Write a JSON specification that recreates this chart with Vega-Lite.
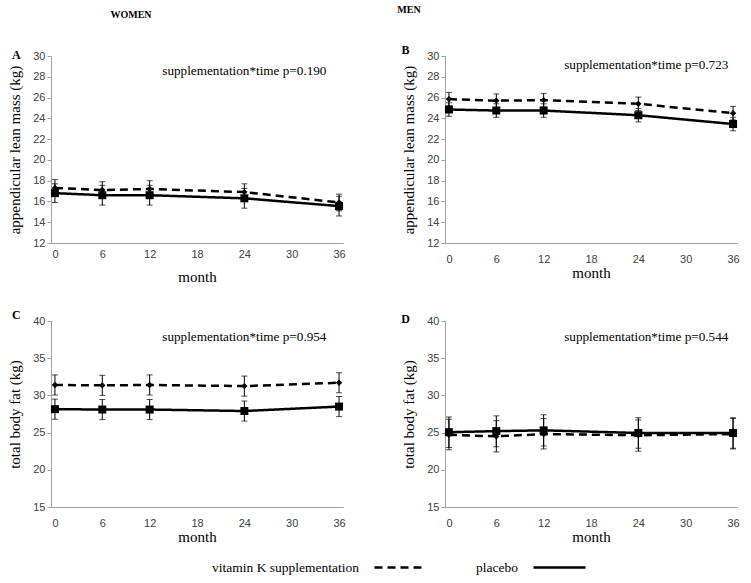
{
  "$schema": "https://vega.github.io/schema/vega-lite/v6.json",
  "background": "white",
  "padding": {"left": 7, "top": 4, "right": 16, "bottom": 8},
  "config": {
    "view": {"stroke": null},
    "axis": {"grid": false, "domainColor": "#a0a0a0", "tickColor": "#a0a0a0", "labelFont": "Liberation Sans", "labelFontSize": 11, "labelColor": "#404040", "titleFont": "Liberation Serif", "titleFontSize": 15, "titleFontWeight": "normal", "titleColor": "black"},
    "axisX": {"ticks": false, "tickSize": 0},
    "axisY": {"tickSize": 4, "labelPadding": 2, "titlePadding": 10},
    "legend": {
      "orient": "none", "legendX": 322, "legendY": 484, "direction": "horizontal",
      "symbolType": "stroke", "symbolSize": 2704, "symbolStrokeWidth": 2.5, "symbolStrokeColor": "black",
      "labelFont": "Liberation Serif", "labelFontSize": 13.5, "labelColor": "black",
      "labelAlign": "right", "labelOffset": -69, "columnPadding": 44, "labelLimit": 400
    }
  },
  "datasets": {
    "A": [
      {"group": "vitamin K supplementation", "month": 0, "mean": 17.3, "lo": 16.5, "hi": 18.1},
      {"group": "vitamin K supplementation", "month": 6, "mean": 17.1, "lo": 16.3, "hi": 17.9},
      {"group": "vitamin K supplementation", "month": 12, "mean": 17.2, "lo": 16.4, "hi": 18.0},
      {"group": "vitamin K supplementation", "month": 24, "mean": 16.9, "lo": 16.1, "hi": 17.7},
      {"group": "vitamin K supplementation", "month": 36, "mean": 15.9, "lo": 15.1, "hi": 16.7},
      {"group": "placebo", "month": 0, "mean": 16.8, "lo": 15.9, "hi": 17.7},
      {"group": "placebo", "month": 6, "mean": 16.6, "lo": 15.65, "hi": 17.55},
      {"group": "placebo", "month": 12, "mean": 16.6, "lo": 15.65, "hi": 17.55},
      {"group": "placebo", "month": 24, "mean": 16.3, "lo": 15.35, "hi": 17.25},
      {"group": "placebo", "month": 36, "mean": 15.55, "lo": 14.6, "hi": 16.5}
    ],
    "B": [
      {"group": "vitamin K supplementation", "month": 0, "mean": 25.85, "lo": 25.2, "hi": 26.5},
      {"group": "vitamin K supplementation", "month": 6, "mean": 25.7, "lo": 25.05, "hi": 26.35},
      {"group": "vitamin K supplementation", "month": 12, "mean": 25.75, "lo": 25.1, "hi": 26.4},
      {"group": "vitamin K supplementation", "month": 24, "mean": 25.4, "lo": 24.75, "hi": 26.05},
      {"group": "vitamin K supplementation", "month": 36, "mean": 24.5, "lo": 23.85, "hi": 25.15},
      {"group": "placebo", "month": 0, "mean": 24.85, "lo": 24.2, "hi": 25.5},
      {"group": "placebo", "month": 6, "mean": 24.75, "lo": 24.1, "hi": 25.4},
      {"group": "placebo", "month": 12, "mean": 24.75, "lo": 24.1, "hi": 25.4},
      {"group": "placebo", "month": 24, "mean": 24.3, "lo": 23.65, "hi": 24.95},
      {"group": "placebo", "month": 36, "mean": 23.45, "lo": 22.8, "hi": 24.1}
    ],
    "C": [
      {"group": "vitamin K supplementation", "month": 0, "mean": 31.4, "lo": 30.05, "hi": 32.75},
      {"group": "vitamin K supplementation", "month": 6, "mean": 31.35, "lo": 30.0, "hi": 32.7},
      {"group": "vitamin K supplementation", "month": 12, "mean": 31.4, "lo": 30.05, "hi": 32.75},
      {"group": "vitamin K supplementation", "month": 24, "mean": 31.25, "lo": 29.9, "hi": 32.6},
      {"group": "vitamin K supplementation", "month": 36, "mean": 31.7, "lo": 30.35, "hi": 33.05},
      {"group": "placebo", "month": 0, "mean": 28.15, "lo": 26.8, "hi": 29.5},
      {"group": "placebo", "month": 6, "mean": 28.1, "lo": 26.75, "hi": 29.45},
      {"group": "placebo", "month": 12, "mean": 28.1, "lo": 26.75, "hi": 29.45},
      {"group": "placebo", "month": 24, "mean": 27.9, "lo": 26.55, "hi": 29.25},
      {"group": "placebo", "month": 36, "mean": 28.5, "lo": 27.15, "hi": 29.85}
    ],
    "D": [
      {"group": "vitamin K supplementation", "month": 0, "mean": 24.7, "lo": 22.7, "hi": 26.8},
      {"group": "vitamin K supplementation", "month": 6, "mean": 24.5, "lo": 22.4, "hi": 26.6},
      {"group": "vitamin K supplementation", "month": 12, "mean": 24.8, "lo": 22.8, "hi": 26.9},
      {"group": "vitamin K supplementation", "month": 24, "mean": 24.65, "lo": 22.5, "hi": 26.7},
      {"group": "vitamin K supplementation", "month": 36, "mean": 24.8, "lo": 22.8, "hi": 26.9},
      {"group": "placebo", "month": 0, "mean": 25.05, "lo": 23.0, "hi": 27.1},
      {"group": "placebo", "month": 6, "mean": 25.2, "lo": 23.1, "hi": 27.25},
      {"group": "placebo", "month": 12, "mean": 25.3, "lo": 23.2, "hi": 27.4},
      {"group": "placebo", "month": 24, "mean": 24.95, "lo": 22.9, "hi": 27.0},
      {"group": "placebo", "month": 36, "mean": 24.95, "lo": 22.9, "hi": 27.0}
    ]
  },
  "columns": 2,
  "spacing": {"row": 78, "column": 102},
  "bounds": "flush",
  "concat": [
    {
      "width": 292, "height": 187,
      "data": {"name": "A"},
      "title": {"text": "WOMEN", "font": "Liberation Serif", "fontSize": 10, "fontWeight": "bold", "color": "black", "anchor": "middle", "dx": -66, "offset": 29},
      "encoding": {
        "x": {"field": "month", "type": "quantitative", "scale": {"domain": [-0.5, 36.5], "nice": false, "zero": false}, "axis": {"values": [0, 6, 12, 18, 24, 30, 36], "title": "month", "labelPadding": 5, "titlePadding": 10}},
        "y": {"field": "mean", "type": "quantitative", "scale": {"domain": [12, 30], "nice": false, "zero": false}, "axis": {"values": [12, 14, 16, 18, 20, 22, 24, 26, 28, 30], "title": "appendicular lean mass (kg)"}}
      },
      "layer": [
        {"mark": {"type": "errorbar", "color": "black", "ticks": {"size": 6}, "rule": {"strokeWidth": 1}},
         "encoding": {"y": {"field": "lo", "type": "quantitative", "scale": {"domain": [12, 30], "nice": false, "zero": false}, "axis": {"values": [12, 14, 16, 18, 20, 22, 24, 26, 28, 30], "title": "appendicular lean mass (kg)"}}, "y2": {"field": "hi"}, "detail": {"field": "group"}}},
        {"mark": {"type": "line", "color": "black", "strokeWidth": 2.5},
         "encoding": {"strokeDash": {"field": "group", "type": "nominal", "scale": {"domain": ["vitamin K supplementation", "placebo"], "range": [[8, 5], [1, 0]]}, "legend": {"title": null}}}},
        {"transform": [{"filter": "datum.group == 'vitamin K supplementation'"}], "mark": {"type": "point", "filled": true, "color": "black", "opacity": 1, "shape": "diamond", "size": 40}},
        {"transform": [{"filter": "datum.group == 'placebo'"}], "mark": {"type": "point", "filled": true, "color": "black", "opacity": 1, "shape": "square", "size": 64}},
        {"transform": [{"filter": "datum.group == 'placebo' && datum.month == 0"}], "mark": {"type": "text", "text": "A", "font": "Liberation Serif", "fontSize": 12, "fontWeight": "bold", "color": "black"},
         "encoding": {"x": {"datum": -4.9, "type": "quantitative"}, "y": {"datum": 30.1, "type": "quantitative"}}},
        {"transform": [{"filter": "datum.group == 'placebo' && datum.month == 0"}], "mark": {"type": "text", "text": "supplementation*time p=0.190", "font": "Liberation Serif", "fontSize": 13.2, "color": "black"},
         "encoding": {"x": {"datum": 24, "type": "quantitative"}, "y": {"datum": 28.6, "type": "quantitative"}}}
      ]
    },
    {
      "width": 292, "height": 187,
      "data": {"name": "B"},
      "title": {"text": "MEN", "font": "Liberation Serif", "fontSize": 10, "fontWeight": "bold", "color": "black", "anchor": "middle", "dx": -182, "offset": 29},
      "encoding": {
        "x": {"field": "month", "type": "quantitative", "scale": {"domain": [-0.5, 36.5], "nice": false, "zero": false}, "axis": {"values": [0, 6, 12, 18, 24, 30, 36], "title": "month", "labelPadding": 10, "titlePadding": 1}},
        "y": {"field": "mean", "type": "quantitative", "scale": {"domain": [12, 30], "nice": false, "zero": false}, "axis": {"values": [12, 14, 16, 18, 20, 22, 24, 26, 28, 30], "title": "appendicular lean mass (kg)"}}
      },
      "layer": [
        {"mark": {"type": "errorbar", "color": "black", "ticks": {"size": 6}, "rule": {"strokeWidth": 1}},
         "encoding": {"y": {"field": "lo", "type": "quantitative", "scale": {"domain": [12, 30], "nice": false, "zero": false}, "axis": {"values": [12, 14, 16, 18, 20, 22, 24, 26, 28, 30], "title": "appendicular lean mass (kg)"}}, "y2": {"field": "hi"}, "detail": {"field": "group"}}},
        {"mark": {"type": "line", "color": "black", "strokeWidth": 2.5},
         "encoding": {"strokeDash": {"field": "group", "type": "nominal", "scale": {"domain": ["vitamin K supplementation", "placebo"], "range": [[8, 5], [1, 0]]}, "legend": {"title": null}}}},
        {"transform": [{"filter": "datum.group == 'vitamin K supplementation'"}], "mark": {"type": "point", "filled": true, "color": "black", "opacity": 1, "shape": "diamond", "size": 40}},
        {"transform": [{"filter": "datum.group == 'placebo'"}], "mark": {"type": "point", "filled": true, "color": "black", "opacity": 1, "shape": "square", "size": 64}},
        {"transform": [{"filter": "datum.group == 'placebo' && datum.month == 0"}], "mark": {"type": "text", "text": "B", "font": "Liberation Serif", "fontSize": 12, "fontWeight": "bold", "color": "black"},
         "encoding": {"x": {"datum": -5.5, "type": "quantitative"}, "y": {"datum": 30.6, "type": "quantitative"}}},
        {"transform": [{"filter": "datum.group == 'placebo' && datum.month == 0"}], "mark": {"type": "text", "text": "supplementation*time p=0.723", "font": "Liberation Serif", "fontSize": 13.2, "color": "black"},
         "encoding": {"x": {"datum": 25, "type": "quantitative"}, "y": {"datum": 29.1, "type": "quantitative"}}}
      ]
    },
    {
      "width": 292, "height": 186,
      "data": {"name": "C"},
      "encoding": {
        "x": {"field": "month", "type": "quantitative", "scale": {"domain": [-0.5, 36.5], "nice": false, "zero": false}, "axis": {"values": [0, 6, 12, 18, 24, 30, 36], "title": "month", "labelPadding": 10, "titlePadding": 1}},
        "y": {"field": "mean", "type": "quantitative", "scale": {"domain": [15, 40], "nice": false, "zero": false}, "axis": {"values": [15, 20, 25, 30, 35, 40], "title": "total body fat (kg)"}}
      },
      "layer": [
        {"mark": {"type": "errorbar", "color": "black", "ticks": {"size": 6}, "rule": {"strokeWidth": 1}},
         "encoding": {"y": {"field": "lo", "type": "quantitative", "scale": {"domain": [15, 40], "nice": false, "zero": false}, "axis": {"values": [15, 20, 25, 30, 35, 40], "title": "total body fat (kg)"}}, "y2": {"field": "hi"}, "detail": {"field": "group"}}},
        {"mark": {"type": "line", "color": "black", "strokeWidth": 2.5},
         "encoding": {"strokeDash": {"field": "group", "type": "nominal", "scale": {"domain": ["vitamin K supplementation", "placebo"], "range": [[8, 5], [1, 0]]}, "legend": {"title": null}}}},
        {"transform": [{"filter": "datum.group == 'vitamin K supplementation'"}], "mark": {"type": "point", "filled": true, "color": "black", "opacity": 1, "shape": "diamond", "size": 40}},
        {"transform": [{"filter": "datum.group == 'placebo'"}], "mark": {"type": "point", "filled": true, "color": "black", "opacity": 1, "shape": "square", "size": 64}},
        {"transform": [{"filter": "datum.group == 'placebo' && datum.month == 0"}], "mark": {"type": "text", "text": "C", "font": "Liberation Serif", "fontSize": 12, "fontWeight": "bold", "color": "black"},
         "encoding": {"x": {"datum": -4.9, "type": "quantitative"}, "y": {"datum": 40.8, "type": "quantitative"}}},
        {"transform": [{"filter": "datum.group == 'placebo' && datum.month == 0"}], "mark": {"type": "text", "text": "supplementation*time p=0.954", "font": "Liberation Serif", "fontSize": 13.2, "color": "black"},
         "encoding": {"x": {"datum": 24, "type": "quantitative"}, "y": {"datum": 37.85, "type": "quantitative"}}}
      ]
    },
    {
      "width": 292, "height": 186,
      "data": {"name": "D"},
      "encoding": {
        "x": {"field": "month", "type": "quantitative", "scale": {"domain": [-0.5, 36.5], "nice": false, "zero": false}, "axis": {"values": [0, 6, 12, 18, 24, 30, 36], "title": "month", "labelPadding": 10, "titlePadding": 1}},
        "y": {"field": "mean", "type": "quantitative", "scale": {"domain": [15, 40], "nice": false, "zero": false}, "axis": {"values": [15, 20, 25, 30, 35, 40], "title": "total body fat (kg)"}}
      },
      "layer": [
        {"mark": {"type": "errorbar", "color": "black", "ticks": {"size": 6}, "rule": {"strokeWidth": 1}},
         "encoding": {"y": {"field": "lo", "type": "quantitative", "scale": {"domain": [15, 40], "nice": false, "zero": false}, "axis": {"values": [15, 20, 25, 30, 35, 40], "title": "total body fat (kg)"}}, "y2": {"field": "hi"}, "detail": {"field": "group"}}},
        {"mark": {"type": "line", "color": "black", "strokeWidth": 2.5},
         "encoding": {"strokeDash": {"field": "group", "type": "nominal", "scale": {"domain": ["vitamin K supplementation", "placebo"], "range": [[8, 5], [1, 0]]}, "legend": {"title": null}}}},
        {"transform": [{"filter": "datum.group == 'vitamin K supplementation'"}], "mark": {"type": "point", "filled": true, "color": "black", "opacity": 1, "shape": "diamond", "size": 40}},
        {"transform": [{"filter": "datum.group == 'placebo'"}], "mark": {"type": "point", "filled": true, "color": "black", "opacity": 1, "shape": "square", "size": 64}},
        {"transform": [{"filter": "datum.group == 'placebo' && datum.month == 0"}], "mark": {"type": "text", "text": "D", "font": "Liberation Serif", "fontSize": 12, "fontWeight": "bold", "color": "black"},
         "encoding": {"x": {"datum": -5.5, "type": "quantitative"}, "y": {"datum": 40.3, "type": "quantitative"}}},
        {"transform": [{"filter": "datum.group == 'placebo' && datum.month == 0"}], "mark": {"type": "text", "text": "supplementation*time p=0.544", "font": "Liberation Serif", "fontSize": 13.2, "color": "black"},
         "encoding": {"x": {"datum": 25, "type": "quantitative"}, "y": {"datum": 37.85, "type": "quantitative"}}}
      ]
    }
  ]
}
